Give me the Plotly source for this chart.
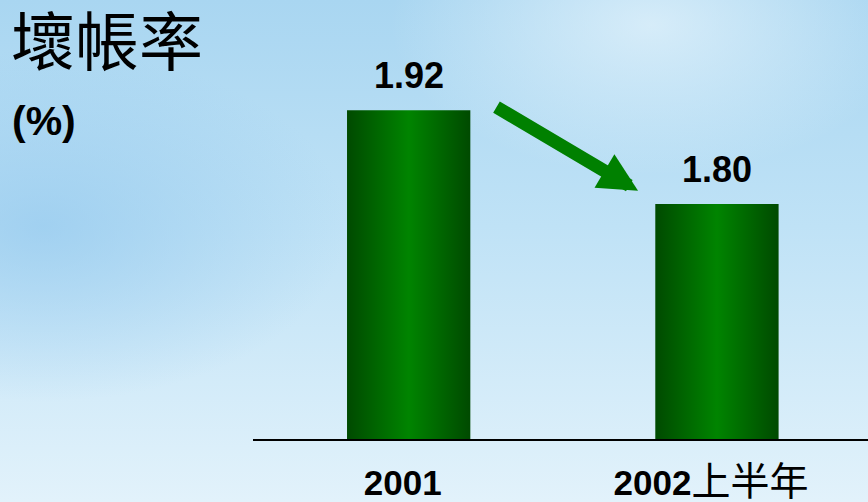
import plotly.graph_objects as go

# data
categories = ["2001", "2002上半年"]
tick_text = ["<b>2001</b>", "<b>2002</b><span style='font-size:39px'>上半年</span>"]
values = [1.92, 1.80]
y_base = 1.5          # value axis does not start at zero in the original
title_text = "壞帳率"
unit_text = "<b>(%)</b>"

W, H = 868, 502
BAR_W = 0.40
GREEN_SCALE = [[0, "#004a00"], [0.5, "#008400"], [1, "#004a00"]]

bg_svg = (
    "data:image/svg+xml;utf8,"
    "<svg xmlns='http://www.w3.org/2000/svg' width='868' height='502'>"
    "<defs>"
    "<linearGradient id='g' x1='0' y1='0' x2='0' y2='1'>"
    "<stop offset='0' stop-color='%23a9d6f1'/>"
    "<stop offset='0.45' stop-color='%23bfe2f6'/>"
    "<stop offset='1' stop-color='%23e2f2fb'/>"
    "</linearGradient>"
    "<radialGradient id='c' cx='0.05' cy='0.45' r='0.35'>"
    "<stop offset='0' stop-color='%2394c9ee' stop-opacity='0.7'/>"
    "<stop offset='1' stop-color='%2394c9ee' stop-opacity='0'/>"
    "</radialGradient>"
    "<radialGradient id='w' cx='0.75' cy='0.05' r='0.3'>"
    "<stop offset='0' stop-color='%23e8f5fc' stop-opacity='0.7'/>"
    "<stop offset='1' stop-color='%23e8f5fc' stop-opacity='0'/>"
    "</radialGradient>"
    "</defs>"
    "<rect width='868' height='502' fill='url(%23g)'/>"
    "<rect width='868' height='502' fill='url(%23c)'/>"
    "<rect width='868' height='502' fill='url(%23w)'/>"
    "</svg>"
)

fig = go.Figure()

# bars with a horizontal dark-light-dark gradient, one fill per bar
for i, v in enumerate(values):
    fig.add_trace(go.Scatter(
        x=[i - BAR_W / 2, i + BAR_W / 2, i + BAR_W / 2, i - BAR_W / 2, i - BAR_W / 2],
        y=[y_base, y_base, v, v, y_base],
        mode="none", fill="toself",
        fillgradient=dict(type="horizontal", colorscale=GREEN_SCALE),
        name=categories[i], hoverinfo="skip", showlegend=False,
    ))

# value labels
for i, v in enumerate(values):
    fig.add_annotation(x=i, y=v, text=f"<b>{v:.2f}</b>", showarrow=False,
                       yanchor="bottom", yshift=12,
                       font=dict(family="Liberation Sans, Arial", size=36, color="black"))

# downward arrow between the bars
fig.add_annotation(x=0.744, y=1.817, ax=0.280, ay=1.925, axref="x", ayref="y",
                   text="", showarrow=True, arrowhead=2, arrowsize=0.6,
                   arrowwidth=13, arrowcolor="#008000", standoff=0)

fig.add_annotation(xref="paper", yref="paper", x=(10 - 253) / 615, y=(439 - 121) / 439,
                   xanchor="left", yanchor="middle", text=unit_text, showarrow=False,
                   font=dict(family="Liberation Sans, Arial", size=41, color="black"))

fig.add_layout_image(dict(source=bg_svg, xref="paper", yref="paper",
                          x=-253 / 615, y=1.0,
                          sizex=W / 615, sizey=H / 439, xanchor="left", yanchor="top",
                          sizing="stretch", layer="below"))

fig.update_layout(
    width=W, height=H,
    margin=dict(l=253, r=0, t=0, b=63, autoexpand=False),
    paper_bgcolor="#c4e4f6", plot_bgcolor="rgba(0,0,0,0)",
    showlegend=False,
    title=dict(text=title_text, x=11 / W, xanchor="left", xref="container",
               y=1 - 43 / H, yanchor="middle", yref="container",
               font=dict(family="Noto Sans CJK TC", size=64, color="black")),
    xaxis=dict(range=[-0.505, 1.49], tickvals=[0, 1], ticktext=tick_text,
               showgrid=False, zeroline=False, showline=True, linecolor="black",
               linewidth=2, ticks="", ticklabelstandoff=12, ticklabelshift=-6,
               automargin=False,
               tickfont=dict(family="Liberation Sans, Noto Sans CJK TC", size=35, color="black")),
    yaxis=dict(range=[y_base, y_base + 439 / 783], visible=False, showgrid=False,
               automargin=False),
)

fig.write_html("out.html", config={"displayModeBar": False},
               post_script="document.body.style.margin='0';"
               "document.body.style.overflow='hidden';")
